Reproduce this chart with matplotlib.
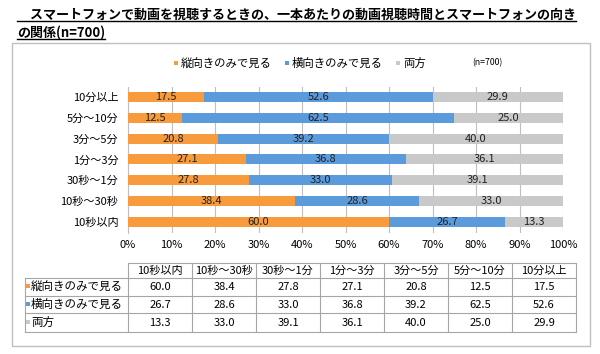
import matplotlib.pyplot as plt
from matplotlib.patches import Rectangle

plt.rcParams['font.family'] = ['Noto Sans CJK JP', 'DejaVu Sans']

categories = ['10秒以内', '10秒〜30秒', '30秒〜1分', '1分〜3分', '3分〜5分', '5分〜10分', '10分以上']
portrait = [60.0, 38.4, 27.8, 27.1, 20.8, 12.5, 17.5]
landscape = [26.7, 28.6, 33.0, 36.8, 39.2, 62.5, 52.6]
both = [13.3, 33.0, 39.1, 36.1, 40.0, 25.0, 29.9]
series_names = ['縦向きのみで見る', '横向きのみで見る', '両方']
colors = ['#F79B3C', '#5B9BDC', '#C9C9C9']
xticks = [0, 10, 20, 30, 40, 50, 60, 70, 80, 90, 100]

W, H = 600, 354
fig = plt.figure(figsize=(W / 100, H / 100), dpi=100)

# overlay in pixel coordinates for frame, title, legend, table
fa = fig.add_axes([0, 0, 1, 1])
fa.set_xlim(0, W)
fa.set_ylim(H, 0)
fa.axis('off')

fa.add_patch(Rectangle((12, 43), 578, 303, fill=False, ec='#BFBFBF', lw=1))

t1 = fa.text(17, 15, '　スマートフォンで動画を視聴するときの、一本あたりの動画視聴時間とスマートフォンの向き',
             fontsize=9.4, fontweight='bold', va='center', ha='left')
t2 = fa.text(17, 33, 'の関係(n=700)', fontsize=9.4, fontweight='bold', va='center', ha='left')

# bar chart
ax = fig.add_axes([128 / W, 1 - 233 / H, (563 - 128) / W, (233 - 87) / H])
y = list(range(len(categories)))
left = [0] * len(categories)
for vals, name, c in zip([portrait, landscape, both], series_names, colors):
    bars = ax.barh(y, vals, left=left, height=0.48, color=c, label=name, zorder=3)
    ax.bar_label(bars, labels=['%.1f' % v for v in vals], label_type='center',
                 fontsize=8, color='#222222')
    left = [a + b for a, b in zip(left, vals)]
ax.set_xlim(0, 100)
ax.set_ylim(-0.53, 6.48)
ax.set_yticks(y)
ax.set_yticklabels(categories, fontsize=8)
ax.set_xticks(xticks)
ax.set_xticklabels(['%d%%' % v for v in xticks], fontsize=8)
ax.tick_params(length=0)
ax.tick_params(axis='y', pad=7)
ax.tick_params(axis='x', pad=5)
ax.grid(axis='x', color='#BFBFBF', lw=0.8, zorder=0)
for s in ['top', 'right', 'bottom']:
    ax.spines[s].set_visible(False)
ax.spines['left'].set_color('#BFBFBF')

# legend
leg_x = [176, 287, 398]
for lx, name, c in zip(leg_x, series_names, colors):
    fa.add_patch(Rectangle((lx - 2, 61), 4, 4, color=c, lw=0))
    fa.text(lx + 5, 63, name, fontsize=8.2, va='center', ha='left')
fa.text(472, 63, '(n=700)', fontsize=6.3, va='center', ha='left')

# data table
col_w = 64
x0 = 128
x_lab = 25
rows_y = [263, 278, 296, 313, 332]
lc = '#A6A6A6'
ncol = len(categories)
x_end = x0 + ncol * col_w
fa.plot([x0, x_end], [rows_y[0]] * 2, color=lc, lw=0.8)
for yy in rows_y[1:]:
    fa.plot([x_lab, x_end], [yy] * 2, color=lc, lw=0.8)
fa.plot([x_lab, x_lab], [rows_y[1], rows_y[-1]], color=lc, lw=0.8)
for i in range(ncol + 1):
    fa.plot([x0 + i * col_w] * 2, [rows_y[0], rows_y[-1]], color=lc, lw=0.8)
for i, cat in enumerate(categories):
    fa.text(x0 + (i + 0.5) * col_w, (rows_y[0] + rows_y[1]) / 2, cat,
            fontsize=8, ha='center', va='center')
for r, (vals, name, c) in enumerate(zip([portrait, landscape, both], series_names, colors)):
    yc = (rows_y[r + 1] + rows_y[r + 2]) / 2
    fa.add_patch(Rectangle((x_lab + 1, yc - 3), 4, 4, color=c, lw=0))
    fa.text(x_lab + 6, yc, name, fontsize=8.3, ha='left', va='center')
    for i, v in enumerate(vals):
        fa.text(x0 + (i + 0.5) * col_w, yc, '%.1f' % v, fontsize=8, ha='center', va='center')

# underline title lines
fig.canvas.draw()
r = fig.canvas.get_renderer()
for t, uy in [(t1, 21), (t2, 39)]:
    bb = t.get_window_extent(r)
    fa.plot([17, bb.x1], [uy, uy], color='black', lw=1)

fig.savefig('out.png', dpi=100)
